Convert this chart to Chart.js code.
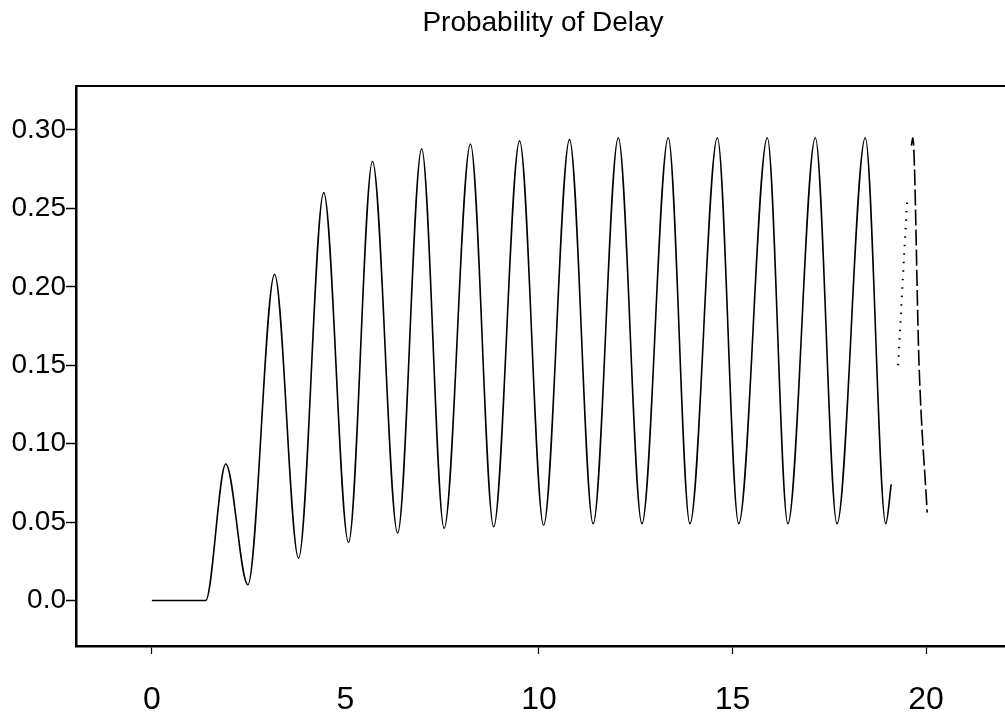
<!DOCTYPE html>
<html>
<head>
<meta charset="utf-8">
<script src="https://cdn.jsdelivr.net/npm/chart.js@4.4.1/dist/chart.umd.min.js"></script>
<style>
  html, body { margin: 0; padding: 0; background: #fff; }
  #wrap { width: 1005px; height: 715px; }
</style>
</head>
<body>
<div id="wrap"><canvas id="c" width="1005" height="715"></canvas></div>
<script>
const chartTitle = 'Probability of Delay';
const yTicks = [0, 0.05, 0.10, 0.15, 0.20, 0.25, 0.30];
const yTickLabels = ['0.0', '0.05', '0.10', '0.15', '0.20', '0.25', '0.30'];
const xTicks = [0, 5, 10, 15, 20];
const xTickLabels = ['0', '5', '10', '15', '20'];

// main solid trace: flat start, then peaks and troughs
const mainX = [0, 1.39, 1.91, 2.48, 3.17, 3.79, 4.44, 5.08, 5.70, 6.35, 6.97, 7.55, 8.23, 8.83, 9.50, 10.12,
               10.79, 11.40, 12.05, 12.66, 13.34, 13.90, 14.61, 15.16, 15.90, 16.43, 17.14, 17.70, 18.43, 18.96, 19.10];
const mainY = [0, 0, 0.087, 0.010, 0.208, 0.027, 0.260, 0.037, 0.280, 0.043, 0.288, 0.046, 0.291, 0.047, 0.293, 0.048,
               0.294, 0.049, 0.295, 0.049, 0.295, 0.049, 0.295, 0.049, 0.295, 0.049, 0.295, 0.049, 0.295, 0.049, 0.074];
// faint dotted rise after the break
const dotX = [19.28, 19.40, 19.51];
const dotY = [0.150, 0.205, 0.254];
// last peak and broken descent
const tailX = [19.62, 19.66, 19.82, 20.03];
const tailY = [0.290, 0.295, 0.150, 0.056];

const pts = (xs, ys) => xs.map((x, i) => ({ x: x, y: ys[i] }));

const FONT = "'Liberation Sans', Arial, Helvetica, sans-serif";

const framePlugin = {
  id: 'frame',
  afterDraw(chart) {
    const { ctx, chartArea } = chart;
    ctx.save();
    ctx.strokeStyle = '#000';
    ctx.lineWidth = 2;
    ctx.beginPath();
    ctx.moveTo(chartArea.left - 1, chartArea.top);
    ctx.lineTo(chartArea.right, chartArea.top);
    ctx.stroke();
    ctx.fillStyle = '#000';
    ctx.font = '28px ' + FONT;
    ctx.textAlign = 'center';
    ctx.textBaseline = 'middle';
    ctx.fillText(chartTitle, 543, 23);
    ctx.restore();
  }
};

new Chart(document.getElementById('c'), {
  type: 'line',
  data: {
    datasets: [
      { data: pts(mainX, mainY), borderColor: '#000', borderWidth: 1.6, pointRadius: 0,
        cubicInterpolationMode: 'monotone', fill: false },
      { data: pts(dotX, dotY), borderColor: '#000', borderWidth: 2, pointRadius: 0,
        borderDash: [1.5, 7], cubicInterpolationMode: 'monotone', fill: false },
      { data: pts(tailX, tailY), borderColor: '#000', borderWidth: 1.6, pointRadius: 0,
        borderDash: [16, 4], cubicInterpolationMode: 'monotone', fill: false }
    ]
  },
  options: {
    responsive: false,
    animation: false,
    devicePixelRatio: 1,
    layout: { padding: { top: 86, right: 0, bottom: 0, left: 0 } },
    plugins: { legend: { display: false }, title: { display: false }, tooltip: { enabled: false } },
    scales: {
      x: {
        type: 'linear',
        min: -1.96, max: 22.04,
        afterBuildTicks: (s) => { s.ticks = xTicks.map(v => ({ value: v })); },
        afterFit: (s) => { s.height = 69; },
        ticks: {
          color: '#000', font: { family: FONT, size: 32 }, padding: 27, maxRotation: 0,
          callback: (v) => xTickLabels[xTicks.indexOf(v)]
        },
        grid: { drawOnChartArea: false, drawTicks: true, tickLength: 8, tickWidth: 1.2,
                tickColor: (c) => (c.tick && c.tick.value === 5) ? 'rgba(0,0,0,0)' : '#000' },
        border: { display: true, color: '#000', width: 2.5 }
      },
      y: {
        type: 'linear',
        min: -0.029, max: 0.328,
        afterBuildTicks: (s) => { s.ticks = yTicks.map(v => ({ value: v })); },
        afterFit: (s) => { s.width = 76; },
        ticks: {
          color: '#000', font: { family: FONT, size: 28 }, padding: 0,
          callback: (v) => yTickLabels[yTicks.indexOf(v)]
        },
        grid: { drawOnChartArea: false, drawTicks: true, tickLength: 10, tickWidth: 1.5, tickColor: '#000' },
        border: { display: true, color: '#000', width: 2.5 }
      }
    }
  },
  plugins: [framePlugin]
});
</script>
</body>
</html>
